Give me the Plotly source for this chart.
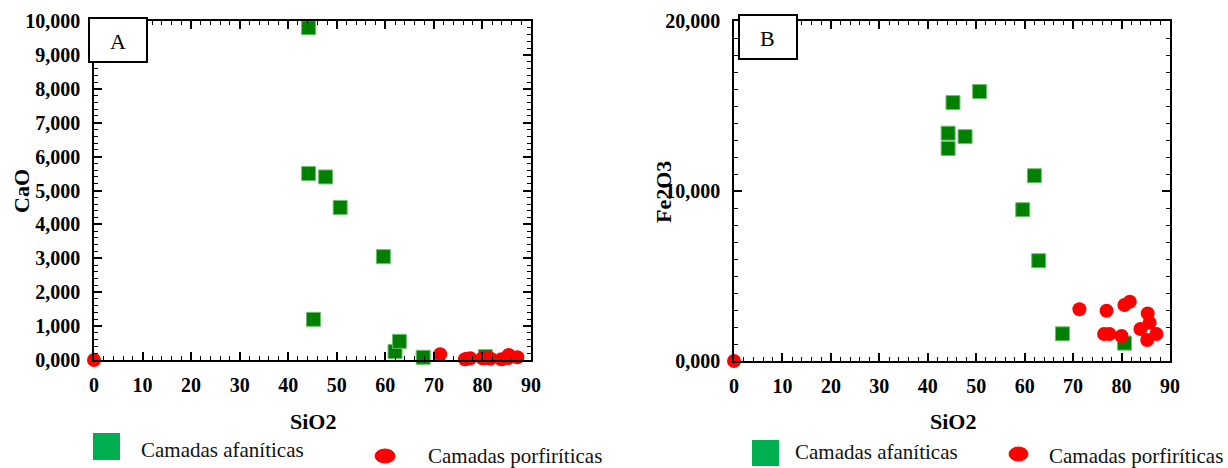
import plotly.graph_objects as go

# --- data -------------------------------------------------------------
# SiO2 contents of the aphanitic (green) and porphyritic (red) samples
sio2_afaniticas = [44.2, 44.2, 45.2, 47.7, 50.7, 59.6, 62.0, 62.9, 67.8, 80.6]
cao_afaniticas = [9800, 5500, 1200, 5400, 4500, 3050, 250, 550, 80, 100]
fe2o3_afaniticas = [13400, 12500, 15200, 13200, 15850, 8900, 10900, 5900, 1600, 1050]

sio2_porfiriticas = [0, 71.3, 76.4, 76.9, 77.5, 80.0, 80.6, 81.7, 83.9, 85.3, 85.4, 85.8, 87.2]
cao_porfiriticas = [0, 170, 20, 40, 50, 50, 60, 40, 20, 60, 150, 100, 80]
fe2o3_porfiriticas = [0, 3040, 1590, 2960, 1590, 1470, 3290, 3490, 1880, 1235, 2800, 2250, 1590]

x_ticks = [0, 10, 20, 30, 40, 50, 60, 70, 80, 90]
cao_ticks = [0, 1000, 2000, 3000, 4000, 5000, 6000, 7000, 8000, 9000, 10000]
cao_tick_text = ["0,000", "1,000", "2,000", "3,000", "4,000", "5,000",
                 "6,000", "7,000", "8,000", "9,000", "10,000"]
fe_ticks = [0, 10000, 20000]
fe_tick_text = ["0,000", "10,000", "20,000"]

panel_labels = ["A", "B"]
legend_labels = ["Camadas afaníticas", "Camadas porfiríticas"]

# --- layout helpers ---------------------------------------------------
W, H = 1228, 468
SERIF = '"Times New Roman", "Liberation Serif", serif'


def px(x):
    return x / W


def py(y):
    return 1 - y / H


GREEN = "#008000"
GREEN_EDGE = "#6fbf6f"
RED = "#ff0000"
LEGEND_GREEN = "#00b050"

fig = go.Figure()

# panel A: CaO vs SiO2
fig.add_trace(go.Scatter(
    x=sio2_afaniticas, y=cao_afaniticas, mode="markers", xaxis="x", yaxis="y",
    marker=dict(symbol="square", size=14, color=GREEN, line=dict(color=GREEN_EDGE, width=1)),
    cliponaxis=False, showlegend=False))
fig.add_trace(go.Scatter(
    x=sio2_porfiriticas, y=cao_porfiriticas, mode="markers", xaxis="x", yaxis="y",
    marker=dict(symbol="circle", size=14, color=RED, line=dict(width=0)),
    cliponaxis=False, showlegend=False))

# panel B: Fe2O3 vs SiO2
fig.add_trace(go.Scatter(
    x=sio2_afaniticas, y=fe2o3_afaniticas, mode="markers", xaxis="x2", yaxis="y2",
    marker=dict(symbol="square", size=14, color=GREEN, line=dict(color=GREEN_EDGE, width=1)),
    cliponaxis=False, showlegend=False))
fig.add_trace(go.Scatter(
    x=sio2_porfiriticas, y=fe2o3_porfiriticas, mode="markers", xaxis="x2", yaxis="y2",
    marker=dict(symbol="circle", size=14, color=RED, line=dict(width=0)),
    cliponaxis=False, showlegend=False))

tick_font = dict(family=SERIF, size=20, color="black", weight="bold")


def minor(step):
    return dict(dtick=step, ticklen=4, tickwidth=1.2, tickcolor="black", ticks="inside")


common_axis = dict(
    showline=True, linecolor="black", linewidth=1.5, mirror=True,
    ticks="inside", ticklen=8, tickwidth=1.5, tickcolor="black",
    showgrid=False, zeroline=False, tickfont=tick_font, automargin=False,
)

xdom_a = [px(94), px(531)]
ydom_a = [py(360), py(21)]
xdom_b = [px(734), px(1170)]
ydom_b = [py(361), py(21)]

xaxis_common = dict(common_axis, range=[0, 90], tickmode="array", tickvals=x_ticks,
                    ticklabelstandoff=6, minor=minor(2))

# tick-only axes on the top and right edges of each panel
x_top = dict(common_axis, range=[0, 90], tickmode="array", tickvals=x_ticks,
             showticklabels=False, side="top", minor=minor(2))

fig.update_layout(
    width=W, height=H,
    margin=dict(l=0, r=0, t=0, b=0),
    paper_bgcolor="white", plot_bgcolor="white",
    xaxis=dict(xaxis_common, domain=xdom_a, anchor="y"),
    yaxis=dict(common_axis, domain=ydom_a, anchor="x", range=[0, 10000],
               tickmode="array", tickvals=cao_ticks, ticktext=cao_tick_text,
               ticklabelstandoff=8, minor=minor(200)),
    xaxis3=dict(x_top, overlaying="x", anchor="y", domain=xdom_a),
    yaxis3=dict(common_axis, overlaying="y", anchor="x", side="right", range=[0, 10000],
                tickmode="array", tickvals=cao_ticks, showticklabels=False,
                domain=ydom_a, minor=minor(200)),
    xaxis2=dict(xaxis_common, domain=xdom_b, anchor="y2"),
    yaxis2=dict(common_axis, domain=ydom_b, anchor="x2", range=[0, 20000],
                tickmode="array", tickvals=fe_ticks, ticktext=fe_tick_text,
                ticklabelstandoff=8, minor=minor(1000)),
    xaxis4=dict(x_top, overlaying="x2", anchor="y2", domain=xdom_b),
    yaxis4=dict(common_axis, overlaying="y2", anchor="x2", side="right", range=[0, 20000],
                tickmode="array", tickvals=fe_ticks, showticklabels=False,
                domain=ydom_b, minor=minor(1000)),
)

# invisible traces so the tick-only axes are drawn
fig.add_trace(go.Scatter(x=[None], y=[None], xaxis="x3", yaxis="y3", showlegend=False, hoverinfo="skip"))
fig.add_trace(go.Scatter(x=[None], y=[None], xaxis="x4", yaxis="y4", showlegend=False, hoverinfo="skip"))

shapes = []
annotations = []

# panel letter boxes
for label, (x0, y0, x1, y1) in zip(panel_labels, [(89, 18, 147, 62), (739, 15, 797, 59)]):
    shapes.append(dict(type="rect", xref="paper", yref="paper",
                       x0=px(x0), x1=px(x1), y0=py(y1), y1=py(y0),
                       line=dict(color="black", width=2), fillcolor="white", layer="above"))
    annotations.append(dict(text=label, xref="paper", yref="paper",
                            x=px((x0 + x1) / 2), y=py((y0 + y1) / 2 + 1),
                            showarrow=False, xanchor="center", yanchor="middle",
                            font=dict(family=SERIF, size=22, color="black")))

title_font = dict(family=SERIF, size=22, color="black", weight="bold")

# axis titles
for text, x, y, ang in [("CaO", 21, 191, -90), ("Fe2O3", 663, 192, -90),
                        ("SiO2", 313, 421, 0), ("SiO2", 953, 421, 0)]:
    annotations.append(dict(text=text, xref="paper", yref="paper", x=px(x), y=py(y),
                            showarrow=False, xanchor="center", yanchor="middle",
                            textangle=ang, font=title_font))

legend_font = dict(family=SERIF, size=21, color="#111111")

# legend keys below each panel
for sq, txt_a, ell, txt_p in [
    ((94, 434, 119, 459), (139, 450), (375, 449, 395, 463), (426, 456)),
    ((753, 441, 778, 465), (793, 452), (1009, 447, 1028, 461), (1047, 456)),
]:
    shapes.append(dict(type="path", xref="paper", yref="paper",
                       path=("M {a},{b} L {c},{b} L {c},{d} L {a},{d} Z").format(
                           a=px(sq[0]), b=py(sq[1]), c=px(sq[2]), d=py(sq[3])),
                       fillcolor=LEGEND_GREEN, line=dict(color=LEGEND_GREEN, width=2)))
    annotations.append(dict(text=legend_labels[0], xref="paper", yref="paper",
                            x=px(txt_a[0]), y=py(txt_a[1]), showarrow=False,
                            xanchor="left", yanchor="middle", font=legend_font))
    shapes.append(dict(type="circle", xref="paper", yref="paper",
                       x0=px(ell[0]), x1=px(ell[2]), y0=py(ell[3]), y1=py(ell[1]),
                       fillcolor=RED, line=dict(color=RED, width=1)))
    annotations.append(dict(text=legend_labels[1], xref="paper", yref="paper",
                            x=px(txt_p[0]), y=py(txt_p[1]), showarrow=False,
                            xanchor="left", yanchor="middle", font=legend_font))

fig.update_layout(shapes=shapes, annotations=annotations)

fig.write_html("out.html")
